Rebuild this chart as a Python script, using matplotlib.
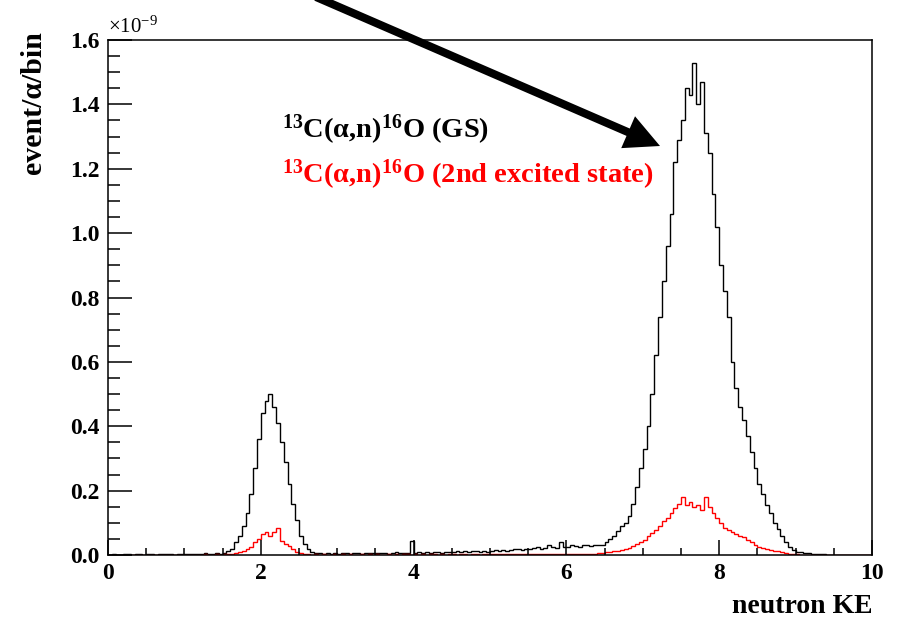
import matplotlib
matplotlib.use("Agg")
import matplotlib.pyplot as plt
import numpy as np
from matplotlib.ticker import MultipleLocator, FormatStrFormatter

plt.rcParams['font.family'] = 'Liberation Serif'
plt.rcParams['mathtext.fontset'] = 'custom'
plt.rcParams['mathtext.rm'] = 'Liberation Serif'
plt.rcParams['mathtext.bf'] = 'Liberation Serif:bold'
plt.rcParams['mathtext.it'] = 'Liberation Serif:italic'

# bins of 0.05 from 0 to 10, values in units of 1e-9 event/alpha/bin
bin_edges = np.arange(0, 10.0001, 0.05)

# ground state (black)
black_low = [0.001, 0.002, 0.001, 0.000, 0.003, 0.002, 0.001, 0.004, 0.002, 0.001,
             0.002, 0.003, 0.001, 0.002, 0.004, 0.002, 0.003, 0.001, 0.002, 0.003,
             0.002, 0.004, 0.003, 0.002, 0.003, 0.005, 0.003, 0.004, 0.006, 0.004]
black_peak1 = [0.005, 0.012, 0.02, 0.04, 0.06, 0.09, 0.13, 0.19, 0.27, 0.36,
               0.44, 0.48, 0.50, 0.46, 0.41, 0.35, 0.29, 0.22, 0.16, 0.11,
               0.06, 0.035, 0.02, 0.01, 0.006]
black_mid = [0.005, 0.004, 0.006, 0.003, 0.005, 0.004, 0.006, 0.005, 0.003, 0.005,
             0.006, 0.004, 0.005, 0.007, 0.005,
             0.006, 0.005, 0.007, 0.004, 0.006, 0.008, 0.005, 0.006, 0.007, 0.045,
             0.006, 0.008, 0.006, 0.009, 0.007, 0.008, 0.010, 0.007, 0.009, 0.008,
             0.010, 0.012, 0.009, 0.011, 0.010, 0.013, 0.011, 0.009, 0.012, 0.010,
             0.012, 0.014, 0.011, 0.015, 0.013, 0.016, 0.020, 0.018, 0.015, 0.020,
             0.018, 0.021, 0.025, 0.019, 0.022, 0.030, 0.024, 0.021, 0.040, 0.025,
             0.026, 0.030, 0.028, 0.025, 0.032, 0.030, 0.028, 0.030]
black_peak2 = [0.03, 0.03, 0.04, 0.05, 0.06, 0.075, 0.09, 0.10, 0.12, 0.16,
               0.21, 0.27, 0.33, 0.40, 0.50, 0.62, 0.74, 0.85, 0.96, 1.06,
               1.22, 1.29, 1.35, 1.45, 1.43, 1.53, 1.40, 1.47, 1.31, 1.25,
               1.12, 1.02, 0.90, 0.82, 0.74, 0.60, 0.52, 0.46, 0.42, 0.37,
               0.32, 0.27, 0.22, 0.19, 0.155, 0.13, 0.10, 0.08, 0.06, 0.04,
               0.025, 0.015, 0.01, 0.008, 0.006, 0.005, 0.004, 0.003, 0.002, 0.002,
               0.001, 0.001]
black_high = [0.001, 0.000, 0.001, 0.000, 0.000, 0.001, 0.000, 0.000, 0.000, 0.000]

# 2nd excited state (red)
red_low = [0.000, 0.001, 0.000, 0.001, 0.000, 0.000, 0.001, 0.000, 0.001, 0.000,
           0.001, 0.000, 0.001, 0.001, 0.000, 0.001, 0.000, 0.001, 0.001, 0.000,
           0.001, 0.001, 0.000, 0.001, 0.001, 0.002, 0.001, 0.001, 0.002, 0.001,
           0.002, 0.002]
red_peak1 = [0.003, 0.005, 0.009, 0.012, 0.018, 0.025, 0.04, 0.05, 0.065, 0.072,
             0.06, 0.07, 0.085, 0.045, 0.035, 0.028, 0.018, 0.009, 0.005, 0.003]
red_mid = [0.002, 0.001, 0.002, 0.001, 0.002, 0.001, 0.001, 0.002, 0.001, 0.002,
           0.001, 0.002, 0.001, 0.001, 0.002, 0.001, 0.002, 0.001, 0.002, 0.001,
           0.001, 0.002, 0.001, 0.002, 0.001, 0.002, 0.002, 0.001, 0.002, 0.001,
           0.002, 0.001, 0.002, 0.002, 0.001, 0.002, 0.001, 0.002, 0.002, 0.001,
           0.002, 0.002, 0.001, 0.002, 0.002, 0.001, 0.002, 0.002, 0.003, 0.002,
           0.002, 0.003, 0.002, 0.002, 0.003, 0.002, 0.003, 0.002, 0.003, 0.002,
           0.003, 0.002, 0.003, 0.003, 0.002, 0.003, 0.003, 0.002, 0.003, 0.003,
           0.002, 0.003, 0.003, 0.003]
red_peak2 = [0.003, 0.004, 0.005, 0.006, 0.008, 0.009, 0.011, 0.013, 0.016, 0.018,
             0.022, 0.027, 0.033, 0.04, 0.046, 0.058, 0.068, 0.078, 0.09, 0.105,
             0.115, 0.13, 0.145, 0.16, 0.18, 0.155, 0.165, 0.15, 0.155, 0.14,
             0.18, 0.15, 0.13, 0.115, 0.10, 0.085, 0.078, 0.07, 0.065, 0.058,
             0.055, 0.048, 0.04, 0.03, 0.026, 0.022, 0.02, 0.017, 0.013, 0.011,
             0.008, 0.006, 0.004, 0.003, 0.002, 0.001]
red_high = [0.001, 0.000, 0.001, 0.000, 0.001, 0.000, 0.000, 0.001, 0.000, 0.000,
            0.001, 0.000, 0.000, 0.000, 0.001, 0.000, 0.000, 0.000]

black_vals = np.array(black_low + black_peak1 + black_mid + black_peak2 + black_high)
red_vals = np.array(red_low + red_peak1 + red_mid + red_peak2 + red_high)

fig = plt.figure(figsize=(8.97, 6.21), dpi=100)
ax = fig.add_axes([108/897, 66/621, 764/897, 515/621])

ax.stairs(black_vals, bin_edges, color='black', lw=1.0)
ax.stairs(red_vals, bin_edges, color='red', lw=1.0)

ax.set_xlim(0, 10)
ax.set_ylim(0, 1.6)

ax.xaxis.set_major_locator(MultipleLocator(2))
ax.xaxis.set_minor_locator(MultipleLocator(0.5))
ax.yaxis.set_major_locator(MultipleLocator(0.2))
ax.yaxis.set_minor_locator(MultipleLocator(0.05))
ax.xaxis.set_major_formatter(FormatStrFormatter('%g'))
ax.yaxis.set_major_formatter(FormatStrFormatter('%.1f'))

ax.tick_params(axis='x', which='major', direction='in', length=11, width=1.1,
               pad=6, labelsize=17, top=False)
ax.tick_params(axis='x', which='minor', direction='in', length=5, width=1.1, top=False)
ax.tick_params(axis='y', which='major', direction='in', length=17, width=1.1,
               pad=6, labelsize=17, right=False)
ax.tick_params(axis='y', which='minor', direction='in', length=8.5, width=1.1, right=False)
for lab in ax.get_xticklabels() + ax.get_yticklabels():
    lab.set_fontweight('bold')
for sp in ax.spines.values():
    sp.set_linewidth(1.1)

ax.text(1.0, -0.1126, 'neutron KE', transform=ax.transAxes, ha='right',
        va='baseline', fontsize=20, fontweight='bold')
ax.text(-0.097, 1.018, 'event/\u03b1/bin', transform=ax.transAxes, rotation=90,
        ha='center', va='top', fontsize=21.5, fontweight='bold')
ax.text(0.0, 1.0136, r'$\times\mathrm{10}^{-9}$', transform=ax.transAxes,
        ha='left', va='baseline', fontsize=15)

ax.text(0.2277, 0.8097, '$^{\\mathbf{13}}$C(\u03b1,n)$^{\\mathbf{16}}$O (GS)',
        transform=ax.transAxes, ha='left', va='baseline', fontsize=20.5,
        fontweight='bold', color='black')
ax.text(0.2277, 0.7223, '$^{\\mathbf{13}}$C(\u03b1,n)$^{\\mathbf{16}}$O (2nd excited state)',
        transform=ax.transAxes, ha='left', va='baseline', fontsize=20.5,
        fontweight='bold', color='red')

# big arrow pointing at the ground-state peak
ax.annotate('', xy=(660/897, 1 - 146/621), xytext=(316/897, 1 + 3/621),
            xycoords='figure fraction', textcoords='figure fraction',
            arrowprops=dict(arrowstyle='simple,head_length=25,head_width=25,tail_width=5.8',
                            mutation_scale=1, shrinkA=0, shrinkB=0,
                            color='black', lw=0),
            annotation_clip=False)

fig.savefig('out.png', dpi=100)
